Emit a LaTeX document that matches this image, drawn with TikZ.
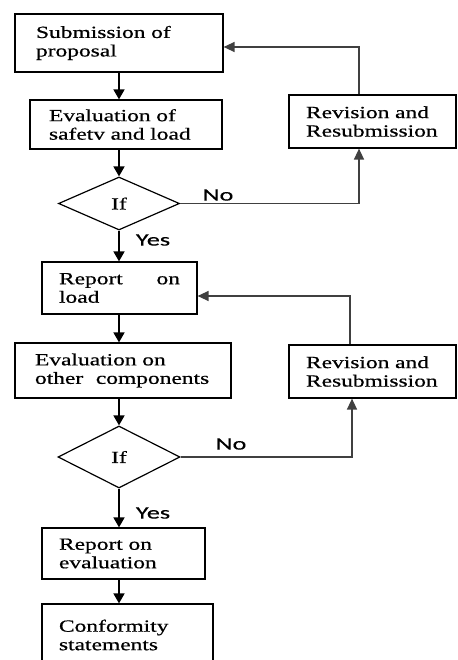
\documentclass[tikz,border=0pt]{standalone}
\usepackage{fontspec}
\setmainfont{Liberation Serif}[FakeStretch=1.38,FakeBold=0.6]
\newfontfamily\answerfont{Carlito}[FakeStretch=1.5,FakeBold=0.5]
\usetikzlibrary{arrows.meta,shapes.geometric}
\tikzset{%
	box/.style      = {draw, rectangle, line width=1.2pt, align=left, font=\fontsize{17}{18.5}\selectfont},
	decision/.style = {draw, diamond, line width=1.2pt, inner sep=0pt, font=\fontsize{17}{18.5}\selectfont},
	arrow/.style    = {line width=1.6pt,-{Triangle[width=11pt,length=10pt]}},
	loopback/.style = {line width=1.4pt, draw=black!75, -{Triangle[width=10pt,length=11pt]}},
	answer/.style   = {inner sep=0pt, font=\answerfont\fontsize{17.5}{19}\selectfont},
}

\begin{document}
\begin{tikzpicture}[x=1pt,y=-1pt]
	\useasboundingbox (0,0) rectangle (457,660);
	\clip (0,0) rectangle (457,660);
	
	\node[box, text width=166pt, inner xsep=21pt, minimum height=58pt] (submit) at (119,43) {Submission of\\proposal};
	\node[box, text width=154pt, inner xsep=19pt, minimum height=49pt] (safety) at (126,124.5) {Evaluation of\\safetv and load};
	\node[decision, minimum width=121pt, minimum height=53pt] (check1) at (119,203.5) {If};
	\node[box, text width=133pt, inner xsep=17pt, minimum height=53pt] (revise1) at (372.5,121.5) {Revision and\\Resubmission};
	
	\node[box, text width=121pt, inner xsep=17pt, minimum height=52pt] (loadrep) at (119.5,288) {Report\hfill on\\load};
	\node[box, text width=176pt, inner xsep=20pt, minimum height=55pt] (others) at (123,370.5) {Evaluation on\\other\hspace{7pt} components};
	\node[box, text width=133pt, inner xsep=17pt, minimum height=53pt] (revise2) at (372.5,371.5) {Revision and\\Resubmission};
	\node[decision, minimum width=122pt, minimum height=62pt] (check2) at (119,457) {If};
	
	\node[box, text width=129pt, inner xsep=17pt, minimum height=51pt] (evalrep) at (123.5,553.5) {Report on\\evaluation};
	\node[box, text width=137pt, inner xsep=17pt, minimum height=62pt] (conform) at (127.5,635) {Conformity\\statements};
	
	\node[answer] (no1) at (218,195) {No};
	\node[answer] (yes1) at (153,240) {Yes};
	\node[answer] (no2) at (231,444) {No};
	\node[answer] (yes2) at (153,513) {Yes};
	
	\draw[arrow] (submit.south) -- (submit.south |- safety.north);
	\draw[arrow] (check1.north |- safety.south) -- (check1.north);
	\draw[arrow] (check1.south) -- (check1.south |- loadrep.north);
	\draw[arrow] (check1.south |- loadrep.south) -- (check1.south |- others.north);
	\draw[arrow] (check2.north |- others.south) -- (check2.north);
	\draw[arrow] (check2.south) -- (check2.south |- evalrep.north);
	\draw[arrow] (check2.south |- evalrep.south) -- (check2.south |- conform.north);
	
	\draw[loopback] (check1.east) -| ([xshift=-13.5pt]revise1.south);
	\draw[loopback] ([xshift=-13.5pt]revise1.north) |- ([yshift=-4pt]submit.east);
	\draw[loopback] (check2.east) -| ([xshift=-20.5pt]revise2.south);
	\draw[loopback] ([xshift=-22.5pt]revise2.north) |- ([yshift=-8pt]loadrep.east);
\end{tikzpicture}
\end{document}
